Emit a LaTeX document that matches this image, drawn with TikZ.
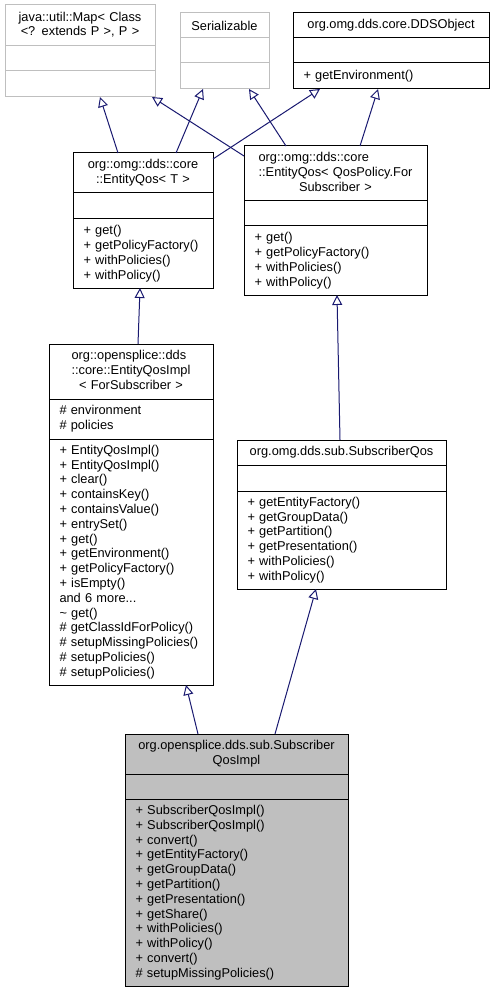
\documentclass[tikz,border=0pt]{standalone}
\usepackage{fontspec}
\setmainfont{Liberation Sans}
\usetikzlibrary{arrows.meta,positioning}
\definecolor{gray75}{HTML}{BFBFBF}
\definecolor{navy}{HTML}{191970}
\newcommand{\cntrln}[1]{\multicolumn{1}{@{}c@{}}{#1}}

\begin{document}
\begin{tikzpicture}[x=1pt,y=-1pt,node distance=0pt,
   cls/.style={draw=black,line width=1pt,fill=white,rectangle,inner xsep=10.5pt,inner ysep=0pt,outer sep=0pt,font=\fontsize{12.8}{14.8}\selectfont},
   ttl/.style={cls,align=center,anchor=north west},
   mem/.style={cls,align=left},
   ext/.style={draw=gray75},
   cur/.style={fill=gray75},
   inh/.style={draw=navy,line width=1pt,-{Triangle[open,length=10pt,width=10pt]}}]
   \useasboundingbox (0,0) rectangle (494,992);

   % java::util::Map
   \node[ttl,ext,text width=129pt,minimum height=41pt] (mapT) at (5,5) {\begin{tabular}{@{}l@{}}java::util::Map< Class\\ \cntrln{<? extends P >, P >}\end{tabular}};
   \node[mem,ext,text width=129pt,minimum height=25pt] (mapA) [below=of mapT] {};
   \node[mem,ext,text width=129pt,minimum height=26pt] (mapM) [below=of mapA] {};

   % Serializable
   \node[ttl,ext,text width=68pt,minimum height=25pt] (serT) at (180,13) {Serializable};
   \node[mem,ext,text width=68pt,minimum height=25pt] (serA) [below=of serT] {};
   \node[mem,ext,text width=68pt,minimum height=26pt] (serM) [below=of serA] {};

   % DDSObject
   \node[ttl,text width=175pt,minimum height=25pt] (ddsT) at (293,13) {org.omg.dds.core.DDSObject};
   \node[mem,text width=175pt,minimum height=25pt] (ddsA) [below=of ddsT] {};
   \node[mem,text width=175pt,minimum height=26pt] (ddsM) [below=of ddsA] {+ getEnvironment()};

   % EntityQos< T >
   \node[ttl,text width=119pt,minimum height=40pt] (eqtT) at (73,153) {\begin{tabular}{@{}l@{}}org::omg::dds::core\\ \cntrln{::EntityQos< T >}\end{tabular}};
   \node[mem,text width=119pt,minimum height=26pt] (eqtA) [below=of eqtT] {};
   \node[mem,text width=119pt,minimum height=69pt] (eqtM) [below=of eqtA] {+ get()\\ + getPolicyFactory()\\ + withPolicies()\\ + withPolicy()};

   % EntityQos< QosPolicy.ForSubscriber >
   \node[ttl,text width=162pt,minimum height=55pt] (eqpT) at (244,146) {\begin{tabular}{@{}l@{}}org::omg::dds::core\\ ::EntityQos< QosPolicy.For\\ \cntrln{Subscriber >}\end{tabular}};
   \node[mem,text width=162pt,minimum height=25pt] (eqpA) [below=of eqpT] {};
   \node[mem,text width=162pt,minimum height=69pt] (eqpM) [below=of eqpA] {+ get()\\ + getPolicyFactory()\\ + withPolicies()\\ + withPolicy()};

   % EntityQosImpl
   \node[ttl,text width=143pt,minimum height=55pt] (eqiT) at (49,344) {\begin{tabular}{@{}l@{}}org::opensplice::dds\\ ::core::EntityQosImpl\\ \cntrln{< ForSubscriber >}\end{tabular}};
   \node[mem,text width=143pt,minimum height=40pt] (eqiA) [below=of eqiT] {\# environment\\ \# policies};
   \node[mem,text width=143pt,minimum height=246pt] (eqiM) [below=of eqiA] {+ EntityQosImpl()\\ + EntityQosImpl()\\ + clear()\\ + containsKey()\\ + containsValue()\\ + entrySet()\\ + get()\\ + getEnvironment()\\ + getPolicyFactory()\\ + isEmpty()\\ and 6 more...\\ \textasciitilde{} get()\\ \# getClassIdForPolicy()\\ \# setupMissingPolicies()\\ \# setupPolicies()\\ \# setupPolicies()};

   % SubscriberQos
   \node[ttl,text width=188pt,minimum height=25pt] (sqT) at (237,440) {org.omg.dds.sub.SubscriberQos};
   \node[mem,text width=188pt,minimum height=26pt] (sqA) [below=of sqT] {};
   \node[mem,text width=188pt,minimum height=98pt] (sqM) [below=of sqA] {+ getEntityFactory()\\ + getGroupData()\\ + getPartition()\\ + getPresentation()\\ + withPolicies()\\ + withPolicy()};

   % SubscriberQosImpl
   \node[ttl,cur,text width=202pt,minimum height=40pt] (sqiT) at (125,734) {\begin{tabular}{@{}l@{}}org.opensplice.dds.sub.Subscriber\\ \cntrln{QosImpl}\end{tabular}};
   \node[mem,cur,text width=202pt,minimum height=25pt] (sqiA) [below=of sqiT] {};
   \node[mem,cur,text width=202pt,minimum height=187pt] (sqiM) [below=of sqiA] {+ SubscriberQosImpl()\\ + SubscriberQosImpl()\\ + convert()\\ + getEntityFactory()\\ + getGroupData()\\ + getPartition()\\ + getPresentation()\\ + getShare()\\ + withPolicies()\\ + withPolicy()\\ + convert()\\ \# setupMissingPolicies()};

   % inheritance
   \draw[inh] ([xshift=45pt]eqtT.north west) -- ([xshift=95pt]mapM.south west);
   \draw[inh] ([xshift=103pt]eqtT.north west) -- ([xshift=23pt]serM.south west);
   \draw[inh] ([yshift=-6pt]eqtT.north east) -- ([xshift=27pt]ddsM.south west);
   \draw[inh] ([yshift=-10pt]eqpT.north west) -- ([xshift=-3pt]mapM.south east);
   \draw[inh] ([xshift=42pt]eqpT.north west) -- ([xshift=69pt]serM.south west);
   \draw[inh] ([xshift=116pt]eqpT.north west) -- ([xshift=85pt]ddsM.south west);
   \draw[inh] ([xshift=89pt]eqiT.north west) -- ([xshift=67pt]eqtM.south west);
   \draw[inh] ([xshift=103pt]sqT.north west) -- ([xshift=93pt]eqpM.south west);
   \draw[inh] ([xshift=73pt]sqiT.north west) -- ([xshift=137pt]eqiM.south west);
   \draw[inh] ([xshift=150pt]sqiT.north west) -- ([xshift=79pt]sqM.south west);
\end{tikzpicture}
\end{document}
